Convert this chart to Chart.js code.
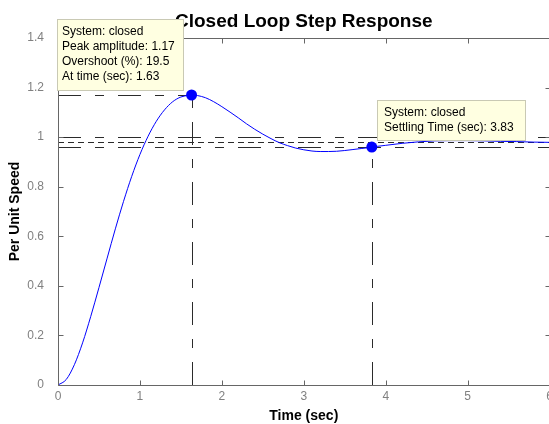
<!DOCTYPE html>
<html>
<head>
<meta charset="utf-8">
<script src="https://cdn.jsdelivr.net/npm/chart.js@4.4.1/dist/chart.umd.min.js"></script>
<style>
html,body{margin:0;padding:0;background:#fff;overflow:hidden;width:549px;height:424px;}
#wrap{width:560px;height:424px;position:relative;}
canvas{display:block;}
</style>
</head>
<body>
<div id="wrap"><canvas id="c" width="560" height="424"></canvas></div>
<script>
// ---- data ----
const times = [0,0.1,0.2,0.3,0.4,0.5,0.6,0.7,0.8,0.9,1.0,1.1,1.2,1.3,1.4,1.5,1.6,1.63,1.7,1.8,1.9,2.0,2.1,2.2,2.3,2.4,2.5,2.6,2.7,2.8,2.9,3.0,3.1,3.2,3.3,3.4,3.5,3.6,3.7,3.8,3.83,3.9,4.0,4.2,4.4,4.6,4.8,5.0,5.2,5.4,5.6,5.8,6.0];
const response = [0,0.022,0.082,0.170,0.277,0.393,0.512,0.630,0.741,0.842,0.930,1.004,1.064,1.110,1.143,1.162,1.169,1.170,1.168,1.159,1.143,1.123,1.101,1.078,1.054,1.032,1.012,0.994,0.978,0.966,0.956,0.949,0.944,0.942,0.942,0.943,0.946,0.950,0.954,0.958,0.960,0.963,0.967,0.975,0.981,0.985,0.986,0.986,0.985,0.983,0.982,0.980,0.979];
const markerTimes = [1.63, 3.83];
const markerValues = [1.17, 0.96];
const finalValue = 0.979;
const bandUpper = 0.999;
const bandLower = 0.959;
const xTicks = [0,1,2,3,4,5,6];
const xTickLabels = ['0','1','2','3','4','5','6'];
const yTicks = [0,0.2,0.4,0.6,0.8,1.0,1.2,1.4];
const yTickLabels = ['0','0.2','0.4','0.6','0.8','1','1.2','1.4'];
const titleText = 'Closed Loop Step Response';
const xLabel = 'Time (sec)';
const yLabel = 'Per Unit Speed';
const peakBoxLines = ['System: closed','Peak amplitude: 1.17','Overshoot (%): 19.5','At time (sec): 1.63'];
const settleBoxLines = ['System: closed','Settling Time (sec): 3.83'];

const FONT = '"Liberation Sans", Arial, Helvetica, sans-serif';
const AXIS_COLOR = '#666666';

const refLines = {
  id: 'refLines',
  beforeDatasetsDraw(chart) {
    const {ctx, chartArea: a, scales: {x, y}} = chart;
    ctx.save();
    ctx.beginPath(); ctx.rect(a.left, a.top, a.right - a.left, a.bottom - a.top); ctx.clip();
    ctx.lineWidth = 1;
    ctx.strokeStyle = '#2b2b2b';
    const seg = (x1, y1, x2, y2, dash) => {
      ctx.setLineDash(dash); ctx.beginPath(); ctx.moveTo(x1, y1); ctx.lineTo(x2, y2); ctx.stroke();
    };
    const dd = [23, 14, 9, 14];
    const hy = v => Math.round(y.getPixelForValue(v)) + 0.5;
    const vx = v => Math.round(x.getPixelForValue(v)) + 0.5;
    seg(a.left, hy(bandUpper), a.right, hy(bandUpper), dd);
    seg(a.left, hy(bandLower), a.right, hy(bandLower), dd);
    seg(a.left, hy(finalValue), a.right, hy(finalValue), [6, 4]);
    // peak guides
    seg(a.left, hy(markerValues[0]), vx(markerTimes[0]), hy(markerValues[0]), dd);
    seg(vx(markerTimes[0]), a.bottom, vx(markerTimes[0]), hy(markerValues[0]), dd);
    // settling guide
    seg(vx(markerTimes[1]), a.bottom, vx(markerTimes[1]), hy(markerValues[1]), dd);
    ctx.restore();
  },
  afterDraw(chart) {
    const {ctx, chartArea: a, scales: {x, y}} = chart;
    ctx.save();
    // axes box and inward ticks
    ctx.strokeStyle = AXIS_COLOR; ctx.lineWidth = 1; ctx.setLineDash([]);
    const L = Math.round(a.left) + 0.5, R = Math.round(a.right) + 0.5, T = Math.round(a.top) + 0.5, B = Math.round(a.bottom) + 0.5;
    ctx.beginPath();
    ctx.moveTo(L, T); ctx.lineTo(R, T); ctx.lineTo(R, B); ctx.lineTo(L, B); ctx.closePath();
    ctx.stroke();
    ctx.beginPath();
    xTicks.forEach(v => {
      const px = Math.round(x.getPixelForValue(v)) + 0.5;
      ctx.moveTo(px, B); ctx.lineTo(px, B - 5);
      ctx.moveTo(px, T); ctx.lineTo(px, T + 5);
    });
    yTicks.forEach(v => {
      const py = Math.round(y.getPixelForValue(v)) + 0.5;
      ctx.moveTo(L, py); ctx.lineTo(L + 5, py);
      ctx.moveTo(R, py); ctx.lineTo(R - 5, py);
    });
    ctx.stroke();

    // title
    ctx.fillStyle = '#000';
    ctx.font = 'bold 19px ' + FONT;
    ctx.textAlign = 'center'; ctx.textBaseline = 'alphabetic';
    ctx.fillText(titleText, (a.left + a.right) / 2, 27);
    // axis labels
    ctx.font = 'bold 14px ' + FONT;
    ctx.textBaseline = 'middle';
    ctx.fillText(xLabel, (a.left + a.right) / 2, 416);
    ctx.save();
    ctx.translate(15.5, (a.top + a.bottom) / 2);
    ctx.rotate(-Math.PI / 2);
    ctx.fillText(yLabel, 0, 0);
    ctx.restore();

    // annotation boxes
    const box = (x0, y0, w, h, lines, tx, ty0) => {
      ctx.fillStyle = '#ffffe1';
      ctx.fillRect(x0, y0, w, h);
      ctx.strokeStyle = '#c9c9b4';
      ctx.strokeRect(x0 + 0.5, y0 + 0.5, w - 1, h - 1);
      ctx.fillStyle = '#000';
      ctx.font = '12px ' + FONT;
      ctx.textAlign = 'left'; ctx.textBaseline = 'middle';
      lines.forEach((s, i) => ctx.fillText(s, tx, ty0 + i * 15));
    };
    box(57, 19, 127, 72, peakBoxLines, 62, 31.5);
    box(377, 100, 149, 41, settleBoxLines, 384, 113);
    ctx.restore();
  }
};

const curve = times.map((t, i) => ({x: t, y: response[i]}));
const markers = markerTimes.map((t, i) => ({x: t, y: markerValues[i]}));

new Chart(document.getElementById('c'), {
  type: 'line',
  data: {
    datasets: [
      {data: curve, borderColor: '#0000ff', borderWidth: 1, pointRadius: 0, fill: false, cubicInterpolationMode: 'monotone', order: 2},
      {data: markers, showLine: false, pointRadius: 5.5, pointBackgroundColor: '#0000ff', pointBorderColor: '#0000ff', pointBorderWidth: 0, order: 1}
    ]
  },
  options: {
    responsive: false,
    animation: false,
    events: [],
    layout: {padding: {top: 38, right: 10.4, left: 0, bottom: 0}},
    plugins: {legend: {display: false}, tooltip: {enabled: false}, title: {display: false}},
    scales: {
      x: {
        type: 'linear', min: 0, max: 6,
        grid: {display: false}, border: {display: false},
        afterBuildTicks: s => { s.ticks = xTicks.map(v => ({value: v})); },
        afterFit: s => { s.height = 39; },
        ticks: {color: '#808080', font: {family: FONT, size: 12}, padding: -4, maxRotation: 0, autoSkip: false,
          callback: (v, i) => xTickLabels[i]}
      },
      y: {
        type: 'linear', min: 0, max: 1.4,
        grid: {display: false}, border: {display: false},
        afterBuildTicks: s => { s.ticks = yTicks.map(v => ({value: v})); },
        afterFit: s => { s.width = 58; },
        ticks: {color: '#808080', font: {family: FONT, size: 12}, padding: 6, autoSkip: false,
          callback: (v, i) => yTickLabels[i]}
      }
    }
  },
  plugins: [refLines]
});
</script>
</body>
</html>
